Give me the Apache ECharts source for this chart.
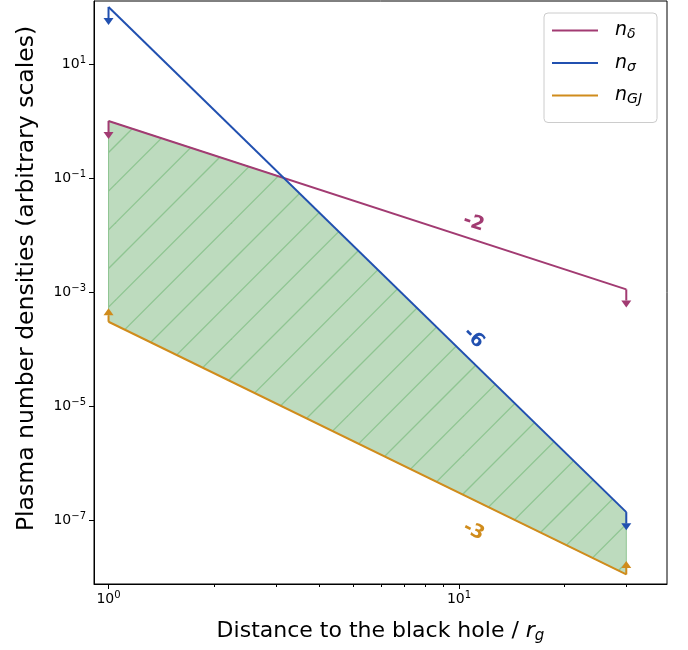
<!DOCTYPE html>
<html><head><meta charset="utf-8">
<script src="https://cdn.jsdelivr.net/npm/echarts@6/dist/echarts.min.js"></script>
<style>html,body{margin:0;padding:0;background:#fff}#c{width:688px;height:650px}</style>
</head><body><div id="c"></div>
<script>
// ---------- data ----------
const xPoints = [1, 30];                 // distance / r_g (end points of each power law)
const nDelta = [1, 1.11e-3];             // slope -2
const nSigma = [100, 1.372e-7];          // slope -6
const nGJ = [3e-4, 1.11e-8];             // slope -3
const seriesNames = ['n_delta', 'n_sigma', 'n_GJ'];
const legendSubs = ['δ', 'σ', 'GJ'];
const limitDir = ['down', 'down', 'up']; // limit arrows at the end points
const limitFactor = {down: 0.48, up: 1.72};
const slopeLabels = ['-2', '-6', '-3'];
const slopeLabelX = [11, 11, 11];
const slopeLabelY = [0.0163, 1.56e-4, 6.4e-8];
const yTickValues = [1e-7, 1e-5, 1e-3, 1e-1, 1e1];
const xMajorTicks = [1, 10];
const xMinorTicks = [2, 3, 4, 5, 6, 7, 8, 9, 20, 30];
const xRange = [0.909, 39.2];
const yRange = [7.53e-9, 127];

const allVals = [nDelta, nSigma, nGJ];
const colors = ['#a23b72', '#2150b0', '#d08c1c'];

// ---------- derived geometry (fill between curves) ----------
function logLine(v) {
  const lx0 = Math.log10(xPoints[0]), lx1 = Math.log10(xPoints[1]);
  const b = (Math.log10(v[1]) - Math.log10(v[0])) / (lx1 - lx0);
  return {a: Math.log10(v[0]) - b * lx0, b: b};
}
const Ld = logLine(nDelta), Ls = logLine(nSigma);
const lxi = (Ls.a - Ld.a) / (Ld.b - Ls.b);
const polyVerts = [
  [xPoints[0], nGJ[0]],
  [xPoints[0], Math.min(nDelta[0], nSigma[0])],
  [Math.pow(10, lxi), Math.pow(10, Ld.a + Ld.b * lxi)],
  [xPoints[1], Math.min(nDelta[1], nSigma[1])],
  [xPoints[1], nGJ[1]]
];

// hatch pattern
const T = 116, step = T / 3, phase = 29;
const hatch = document.createElement('canvas');
hatch.width = T; hatch.height = T;
(function () {
  const g = hatch.getContext('2d');
  g.strokeStyle = '#8fc592';
  g.lineWidth = 1.3;
  for (let c = phase - 2 * step; c < 2 * T + 2 * step; c += step) {
    g.beginPath();
    g.moveTo(-10, c + 10);
    g.lineTo(T + 10, c - T - 10);
    g.stroke();
  }
})();

const chart = echarts.init(document.getElementById('c'), null, {renderer: 'canvas'});

function supLabel(v) {
  const e = Math.round(Math.log10(v));
  return '{b|10}{e|' + (e < 0 ? '\u2212' + (-e) : e) + '}';
}
const tickRich = {
  b: {fontSize: 14, fontFamily: 'DejaVu Sans', color: '#000', lineHeight: 18},
  e: {fontSize: 10, fontFamily: 'DejaVu Sans', color: '#000', lineHeight: 10, verticalAlign: 'top'}
};

const lineSeries = allVals.map((v, i) => ({
  name: seriesNames[i],
  type: 'line',
  data: xPoints.map((x, j) => [x, v[j]]),
  symbol: 'none',
  showSymbol: false,
  lineStyle: {color: colors[i], width: 2},
  itemStyle: {color: colors[i]},
  z: 5,
  silent: true
}));

const arrowData = [];
allVals.forEach((v, i) => xPoints.forEach((x, j) => arrowData.push([x, v[j], i])));
const labelData = slopeLabels.map((t, i) => [slopeLabelX[i], slopeLabelY[i], i]);

const option = {
  animation: false,
  backgroundColor: '#fff',
  grid: {left: 94, right: 21, top: 1, bottom: 66, show: true, borderColor: '#000', borderWidth: 1, containLabel: false},
  xAxis: [{
    type: 'log', min: xRange[0], max: xRange[1],
    axisLine: {show: true, lineStyle: {color: '#000', width: 1}},
    axisTick: {show: true, length: 5, lineStyle: {color: '#000'}, customValues: xMajorTicks},
    axisLabel: {customValues: xMajorTicks, formatter: supLabel, rich: tickRich, margin: 6},
    splitLine: {show: false},
    name: 'Distance to the black hole / {i|r}{s|g}',
    nameLocation: 'middle', nameGap: 34,
    nameTextStyle: {fontSize: 22, fontFamily: 'DejaVu Sans', color: '#000',
      rich: {i: {fontSize: 22, fontStyle: 'italic', fontFamily: 'DejaVu Sans', color: '#000', lineHeight: 26},
             s: {fontSize: 15, fontStyle: 'italic', fontFamily: 'DejaVu Sans', color: '#000', lineHeight: 14, verticalAlign: 'bottom'}}}
  }, {
    type: 'log', min: xRange[0], max: xRange[1], position: 'bottom',
    axisLine: {show: false},
    axisTick: {show: true, length: 3, lineStyle: {color: '#000'}, customValues: xMinorTicks},
    axisLabel: {show: false},
    splitLine: {show: false}
  }],
  yAxis: {
    type: 'log', min: yRange[0], max: yRange[1],
    axisLine: {show: true, lineStyle: {color: '#000', width: 1}},
    axisTick: {show: true, length: 5, lineStyle: {color: '#000'}, customValues: yTickValues},
    axisLabel: {customValues: yTickValues, formatter: supLabel, rich: tickRich, margin: 8},
    splitLine: {show: false},
    name: 'Plasma number densities (arbitrary scales)',
    nameLocation: 'middle', nameGap: 55,
    nameTextStyle: {fontSize: 23.5, fontFamily: 'DejaVu Sans', color: '#000', padding: [0, 0, 0, 28]}
  },
  legend: {
    data: seriesNames,
    orient: 'vertical',
    left: 544, top: 13,
    padding: [8, 15, 16, 8],
    icon: 'rect',
    itemWidth: 46, itemHeight: 2, itemGap: 12,
    backgroundColor: '#fff',
    borderColor: '#cccccc', borderWidth: 1, borderRadius: 4,
    selectedMode: false,
    formatter: name => '{g|}{n|n}{s|' + legendSubs[seriesNames.indexOf(name)] + '}',
    textStyle: {
      rich: {
        g: {width: 12},
        n: {fontSize: 19, fontStyle: 'italic', fontFamily: 'DejaVu Sans', color: '#000', lineHeight: 22},
        s: {fontSize: 14, fontStyle: 'italic', fontFamily: 'DejaVu Sans', color: '#000', lineHeight: 11, verticalAlign: 'bottom'}
      }
    }
  },
  series: [{
    type: 'custom',
    name: 'fill',
    data: polyVerts,
    silent: true,
    z: 1,
    encode: {x: 0, y: 1},
    renderItem: (params, api) => {
      if (params.dataIndex !== 0) return null;
      const pts = polyVerts.map(v => api.coord(v));
      return {type: 'group', children: [
        {type: 'polygon', shape: {points: pts}, style: {fill: '#bddbbe', stroke: null}},
        {type: 'polygon', shape: {points: pts}, style: {fill: {image: hatch, repeat: 'repeat'}, stroke: '#8fc592', lineWidth: 1}}
      ]};
    }
  }].concat(lineSeries).concat([{
    type: 'custom',
    name: 'limits',
    data: arrowData,
    silent: true,
    z: 6,
    encode: {x: 0, y: 1},
    renderItem: (params, api) => {
      const x = api.value(0), y = api.value(1), i = api.value(2);
      const f = limitFactor[limitDir[i]];
      const p0 = api.coord([x, y]), p1 = api.coord([x, y * f]);
      const sg = p1[1] > p0[1] ? 1 : -1;
      const hh = 7, hw = 5;
      const base = p1[1] - sg * hh;
      return {type: 'group', children: [
        {type: 'line', shape: {x1: p0[0], y1: p0[1], x2: p0[0], y2: base}, style: {stroke: colors[i], lineWidth: 2}},
        {type: 'polygon', shape: {points: [[p1[0] - hw, base], [p1[0] + hw, base], [p1[0], p1[1]]]}, style: {fill: colors[i]}}
      ]};
    }
  }, {
    type: 'custom',
    name: 'slopes',
    data: labelData,
    silent: true,
    z: 7,
    encode: {x: 0, y: 1},
    renderItem: (params, api) => {
      const i = api.value(2);
      const p = api.coord([api.value(0), api.value(1)]);
      const a = api.coord([xPoints[0], allVals[i][0]]);
      const b = api.coord([xPoints[1], allVals[i][1]]);
      const ang = Math.atan2(b[1] - a[1], b[0] - a[0]);
      return {type: 'text', x: p[0], y: p[1], rotation: -ang,
        style: {text: slopeLabels[i], fill: colors[i], font: 'bold 19px "DejaVu Sans"', align: 'center', verticalAlign: 'middle'}};
    }
  }])
};
chart.setOption(option);
</script>
</body></html>
